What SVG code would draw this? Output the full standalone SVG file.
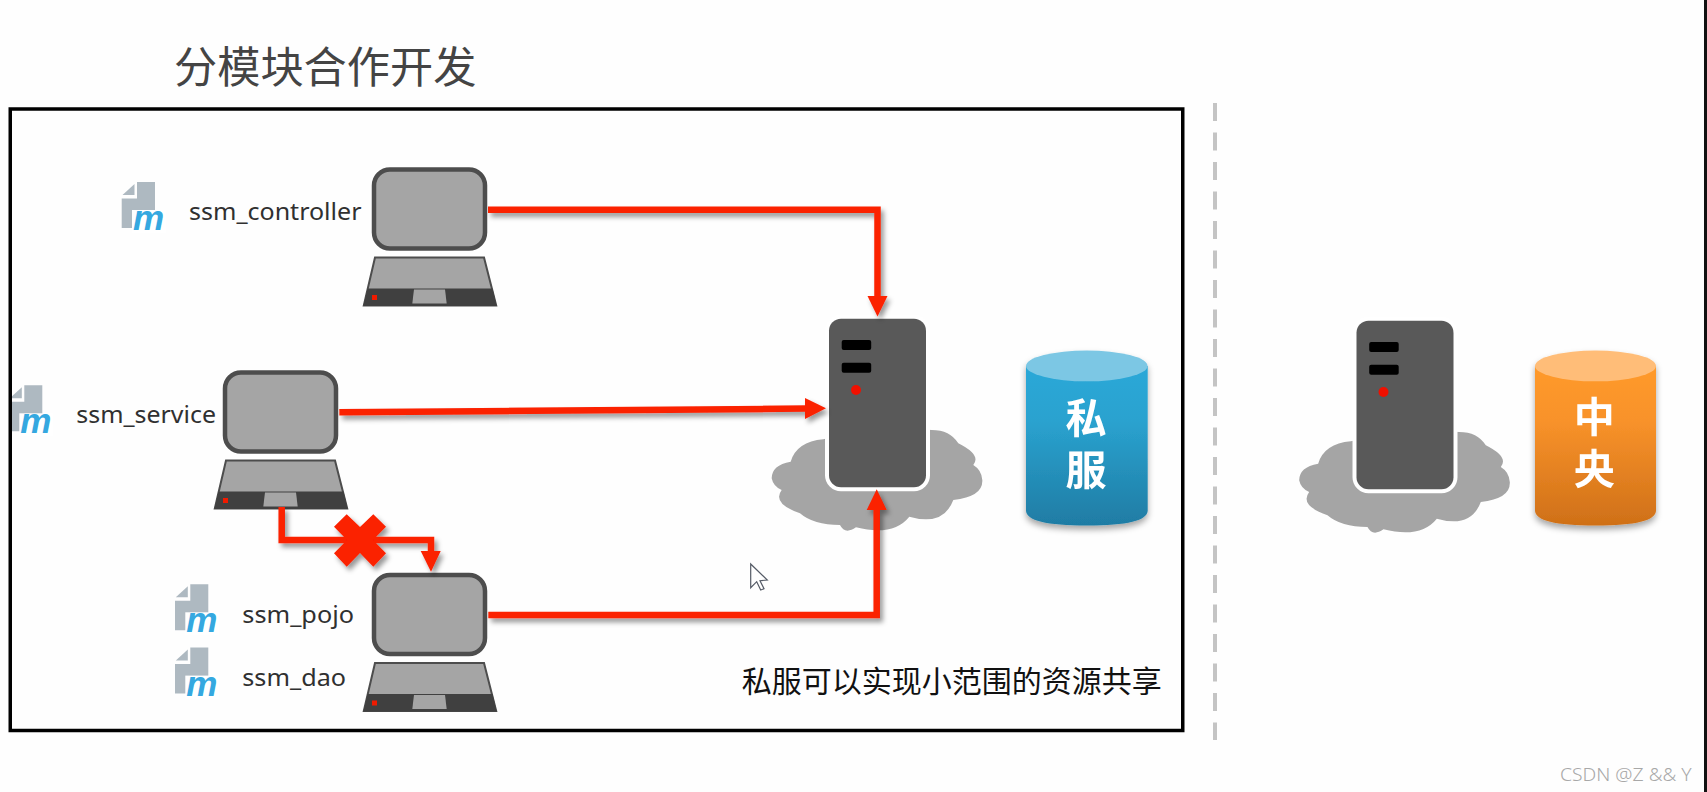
<svg xmlns="http://www.w3.org/2000/svg" width="1707" height="792" viewBox="0 0 1707 792">
<style>
.lat{font-family:"Noto Sans","Open Sans",sans-serif;fill:#303030;font-size:24px}
.cjk{font-family:"Noto Sans CJK SC","Noto Sans",sans-serif}
.db{font-family:"Noto Sans CJK SC",sans-serif;font-size:41px;font-weight:700;fill:#fff;text-anchor:middle}
.wire{fill:none;stroke:#fb2000;stroke-width:6.500;stroke-linejoin:miter}
.head{fill:#fb2000}
.scr{fill:#a5a5a5;stroke:#4d4d4d;stroke-width:4.500}
</style>
<defs>
<filter id="sh" x="-10%" y="-10%" width="120%" height="120%"><feDropShadow dx="3" dy="4" stdDeviation="2.500" flood-color="#000" flood-opacity=".4"/></filter>
<filter id="shc" x="-10%" y="-10%" width="120%" height="120%"><feDropShadow dx="0" dy="4" stdDeviation="3" flood-color="#000" flood-opacity=".35"/></filter>
<linearGradient id="blue" x1="0" y1="0" x2="0" y2="1"><stop offset="0" stop-color="#2ba8d8"/><stop offset=".35" stop-color="#2aa2cf"/><stop offset="1" stop-color="#1f7ca4"/></linearGradient>
<linearGradient id="orange" x1="0" y1="0" x2="0" y2="1"><stop offset="0" stop-color="#ff9a2b"/><stop offset=".35" stop-color="#f8922a"/><stop offset="1" stop-color="#cf7018"/></linearGradient>
<g id="laptop">
<rect class="scr" x="374" y="169.500" width="111" height="79" rx="16"/>
<path d="M375 257.500H484L496.200 305.500H363.800Z" fill="#a5a5a5" stroke="#4d4d4d" stroke-width="2"/>
<path d="M367.500 288.500H492.500L496.700 306H363.300Z" fill="#404040"/>
<path d="M414 289.500H445L446.700 303.500H412.300Z" fill="#a5a5a5"/>
<rect x="372" y="295" width="5" height="5" fill="#f01a00"/>
</g>
<g id="maven">
<path d="M137 182H155V228H121.700V198.500H137Z" fill="#aeb9c1"/>
<path d="M134.500 184V195H122.500Z" fill="#aeb9c1"/>
<rect x="132" y="210" width="34" height="23" fill="#fff"/>
<text x="133" y="230" font-family="'Liberation Sans',sans-serif" font-size="35" font-weight="700" font-style="italic" fill="#35a8e0">m</text>
</g>
<g id="server">
<path transform="translate(750 300) scale(.3333)" fill="#a5a5a5" d="M220 418Q140 425 122 485Q65 495 65 535Q70 560 95 570Q65 610 150 640Q190 675 270 675Q285 705 318 682Q430 710 478 650Q580 680 610 600Q700 590 697 540Q695 510 670 495Q695 465 625 430Q600 390 545 390L400 380Z"/>
<rect x="829" y="318.700" width="97" height="168.500" rx="12" fill="#595959" stroke="#fff" stroke-width="8" paint-order="stroke"/>
<rect x="841.700" y="340" width="29.500" height="10" rx="2" fill="#000"/>
<rect x="841.700" y="362.700" width="29.500" height="10" rx="2" fill="#000"/>
<circle cx="856" cy="390" r="5" fill="#f01000"/>
</g>
</defs>
<rect width="1707" height="792" fill="#fefefe"/>
<rect id="edge" x="1704" y="0" width="3" height="792" fill="#111"/>
<text id="title" class="cjk" x="174" y="82.500" font-size="43.200" fill="#444">分模块合作开发</text>
<path id="divider" d="M1215 103V740" fill="none" stroke="#c4c4c4" stroke-width="4" stroke-dasharray="18 11.500"/>

<g id="node-controller"><use href="#maven"/><use href="#laptop"/><text class="lat" x="189" y="220" textLength="172.500" lengthAdjust="spacingAndGlyphs">ssm_controller</text></g>
<g id="node-service"><use href="#maven" x="-112.700" y="203.300"/><use href="#laptop" x="-149" y="203"/><text class="lat" x="76.300" y="422.700" textLength="139.700" lengthAdjust="spacingAndGlyphs">ssm_service</text></g>
<g id="node-pojo-dao"><use href="#maven" x="53.300" y="402.300"/><use href="#maven" x="53.300" y="465.600"/><use href="#laptop" y="405.500"/><text class="lat" x="242.300" y="622.700" textLength="111.700" lengthAdjust="spacingAndGlyphs">ssm_pojo</text><text class="lat" x="242.300" y="686" textLength="103.700" lengthAdjust="spacingAndGlyphs">ssm_dao</text></g>
<g id="node-private-server"><use href="#server"/></g>
<g id="node-private-db" filter="url(#shc)"><path d="M1026 365.900V510.500Q1026 525.500 1086.800 525.500T1147.700 510.500V365.900Z" fill="url(#blue)"/><ellipse cx="1086.800" cy="365.900" rx="60.800" ry="15.400" fill="#7cc7e4"/><text class="db"><tspan x="1086" y="433">私</tspan><tspan x="1086" y="485">服</tspan></text></g>
<g id="node-central-server"><use href="#server" x="527.500" y="2"/></g>
<g id="node-central-db" filter="url(#shc)"><path d="M1535 365.900V510.500Q1535 525.500 1595.500 525.500T1656 510.500V365.900Z" fill="url(#orange)"/><ellipse cx="1595.500" cy="365.900" rx="60.500" ry="15.400" fill="#ffbd78"/><text class="db"><tspan x="1594.300" y="432">中</tspan><tspan x="1594.300" y="484">央</tspan></text></g>

<g id="connectors" filter="url(#sh)">
<path class="wire" d="M488 209.700H877.500V298"/><path class="head" d="M867.500 296H887.500L877.500 316.500Z"/>
<path class="wire" d="M339.300 412.300L808 408.600"/><path class="head" d="M805 398V419L826 408.300Z"/>
<path class="wire" d="M488.300 615H876.700V508"/><path class="head" d="M866.700 510H886.700L876.700 489.300Z"/>
<path class="wire" d="M281.700 507V540H431V553"/><path class="head" d="M420.700 551H440.700L431 571.700Z"/>
<path id="cross" class="head" d="M360 527L373.300 514.300L386 526.700L373 540L386 553.300L373.300 566.700L360 553L346.700 566.700L334 553.300L347 540L334 526.700L346.700 514.300Z"/>
</g>
<path id="cursor" d="M750.700 564V587.700L756.700 581.700L760.700 590L764 588.700L760 580.700L767.300 580Z" fill="#fff" stroke="#555b66" stroke-width="1.200"/>

<rect id="frame" x="10.250" y="109" width="1172.500" height="621.500" fill="none" stroke="#000" stroke-width="3.500"/>
<text id="caption" class="cjk" x="741.700" y="692" font-size="30" fill="#111">私服可以实现小范围的资源共享</text>
<text id="watermark" x="1560" y="781" font-family="'Noto Sans',sans-serif" font-size="18" font-weight="300" fill="#a8a8a8" textLength="131.700" lengthAdjust="spacingAndGlyphs">CSDN @Z &amp;&amp; Y</text>
</svg>
